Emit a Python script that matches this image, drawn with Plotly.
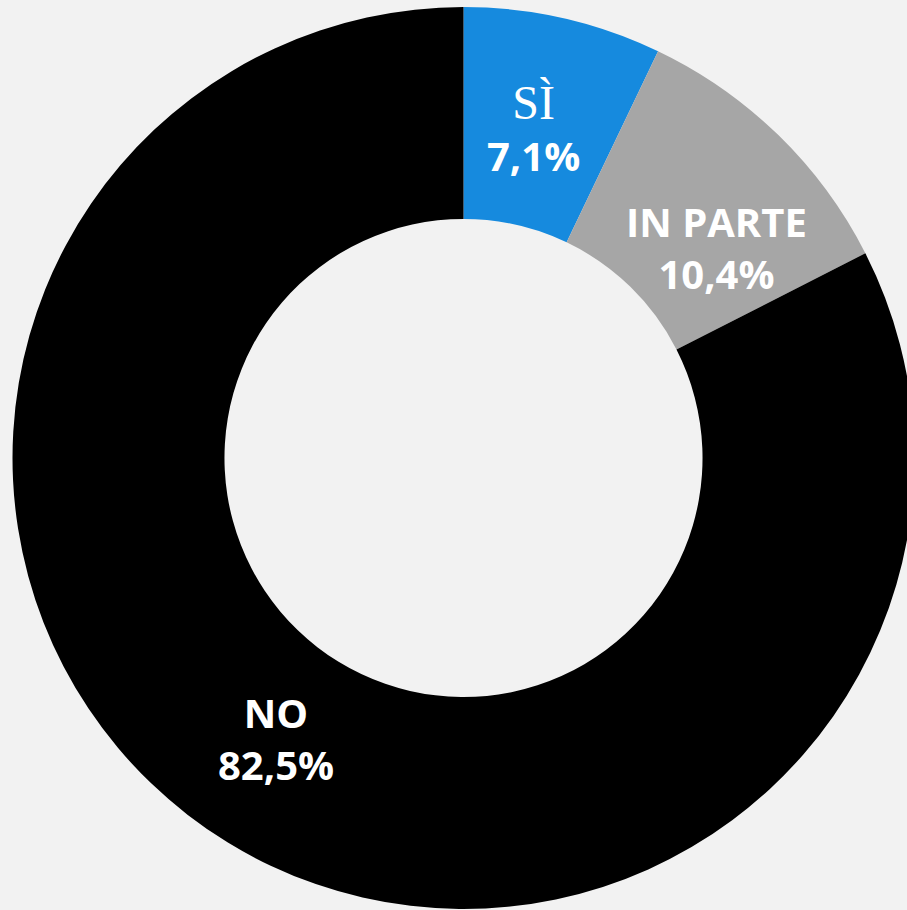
import math
import plotly.graph_objects as go

# Survey answers and their shares (%)
categories = ["SÌ", "IN PARTE", "NO"]
values = [7.1, 10.4, 82.5]
value_labels = ["7,1%", "10,4%", "82,5%"]
colors = ["#168ADE", "#A6A6A6", "#000000"]

# Canvas and donut geometry (pixels)
W, H = 915, 910
CX, CY, R = 463.5, 458.0, 451.0
HOLE = 0.53

# Label placement: fraction of the outer radius and a small angular nudge (deg)
label_radius = [0.745, 0.73, 0.748]
label_nudge = [-0.7, 6.0, 2.2]

fig = go.Figure(
    go.Pie(
        labels=categories,
        values=values,
        marker=dict(colors=colors, line=dict(width=0)),
        hole=HOLE,
        sort=False,
        direction="clockwise",
        rotation=0,
        textinfo="none",
        hoverinfo="label+percent",
        showlegend=False,
        domain=dict(
            x=[(CX - R) / W, (CX + R) / W],
            y=[(H - (CY + R)) / H, (H - (CY - R)) / H],
        ),
    )
)

# Place each label near the middle of its slice, angle taken from the cumulative shares
total = sum(values)
start = 0.0
annotations = []
for i, (cat, val, lab) in enumerate(zip(categories, values, value_labels)):
    mid = (start + val / 2) / total * 360 + label_nudge[i]
    start += val
    rl = label_radius[i] * R
    px = CX + rl * math.sin(math.radians(mid))
    py = CY - rl * math.cos(math.radians(mid))
    if cat == "SÌ":
        head = ("<span style='font-family:\"Liberation Serif\",serif;"
                "font-weight:normal;font-size:48px'>" + cat + "</span>")
    else:
        head = cat
    annotations.append(
        dict(
            x=px / W,
            y=(H - py) / H,
            xref="paper",
            yref="paper",
            xanchor="center",
            yanchor="middle",
            showarrow=False,
            align="center",
            text=head + "<br>" + lab,
            font=dict(family="Open Sans, sans-serif", size=40, color="white",
                      weight="bold"),
        )
    )

fig.update_layout(
    width=W,
    height=H,
    margin=dict(l=0, r=0, t=0, b=0),
    paper_bgcolor="#F2F2F2",
    plot_bgcolor="#F2F2F2",
    annotations=annotations,
)

fig.write_html(
    "out.html",
    post_script="document.documentElement.style.overflow='hidden';"
                "document.body.style.overflow='hidden';"
                "document.body.style.margin='0';",
)
